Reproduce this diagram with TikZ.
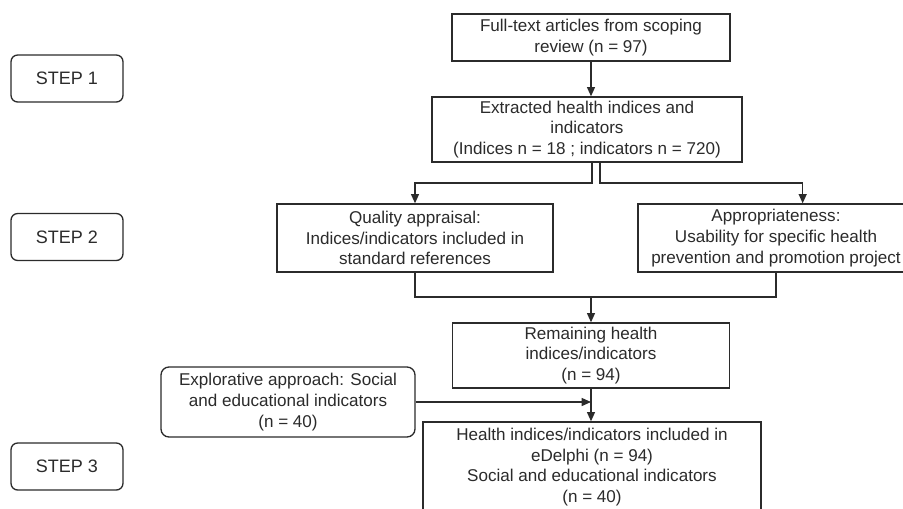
\documentclass[tikz,border=0pt]{standalone}
\usepackage{fontspec}
\setmainfont{Liberation Sans}
\usetikzlibrary{arrows.meta,positioning}
\definecolor{inkgray}{HTML}{2B2B2B}

\begin{document}
\begin{tikzpicture}[x=0.75pt,y=-0.75pt]
	\tikzstyle{Box}		= [draw=inkgray, line width=1pt, fill=white, align=center, inner sep=1pt, text=inkgray, font=\fontsize{12.8}{15.5}\selectfont]
	\tikzstyle{Step}	= [Box, rounded corners=5pt, minimum width=84pt, minimum height=35.25pt, font=\fontsize{13.5}{16}\selectfont]
	\tikzstyle{Round}	= [Box, rounded corners=6pt]
	\tikzstyle{Link}	= [draw=inkgray, line width=1pt]
	\tikzstyle{Arr}		= [Link, -{Triangle[length=7pt,width=6pt]}]

	\useasboundingbox (0,0) rectangle (903,508);

	% steps
	\node (s1) at (67, 78.5) [Step] {STEP 1};
	\node (s2) at (67, 237) [Step] {STEP 2};
	\node (s3) at (67, 466.5) [Step] {STEP 3};

	% flow
	\node (art) at (591, 37.5) [Box, minimum width=208.5pt, minimum height=35.25pt] {Full-text articles from scoping\\review (n = 97)};
	\node (ext) at (587, 129.5) [Box, minimum width=232.5pt, minimum height=48.75pt] {Extracted health indices and\\indicators\\(Indices n = 18 ; indicators n = 720)};
	\node (qa) at (415, 238) [Box, minimum width=207pt, minimum height=51pt] {Quality appraisal:\\Indices/indicators included in\\standard references};
	\node (app) at (776, 238) [Box, minimum width=207pt, minimum height=51pt] {Appropriateness:\\Usability for specific health\\prevention and promotion project};
	\node (rem) at (591, 355.5) [Box, minimum width=207.75pt, minimum height=48.75pt] {Remaining health\\indices/indicators\\(n = 94)};
	\node (expl) at (288, 402) [Round, minimum width=190.5pt, minimum height=52.5pt] {Explorative approach: Social\\and educational indicators\\(n = 40)};
	\node (del) at (592, 467) [Box, minimum width=253.5pt, minimum height=67.5pt] {Health indices/indicators included in\\eDelphi (n = 94)\\Social and educational indicators\\(n = 40)};

	\coordinate (splitL) at (592, 183);
	\coordinate (splitR) at (600, 183);
	\coordinate (join) at (591, 297);

	\draw [Arr] (art.south) -- (art.south |- ext.north);
	\draw [Arr] (ext.south -| splitL) -- (splitL) -| (qa.north);
	\draw [Arr] (ext.south -| splitR) -- (splitR) -| ([xshift=20pt]app.north);
	\draw [Link] (qa.south) |- (join) -| (app.south);
	\draw [Arr] (join) -- (join |- rem.north);
	\draw [Arr] (rem.south) -- (rem.south |- del.north);
	\draw [Arr] (expl.east) -- (rem.south |- expl.east);
\end{tikzpicture}
\end{document}
